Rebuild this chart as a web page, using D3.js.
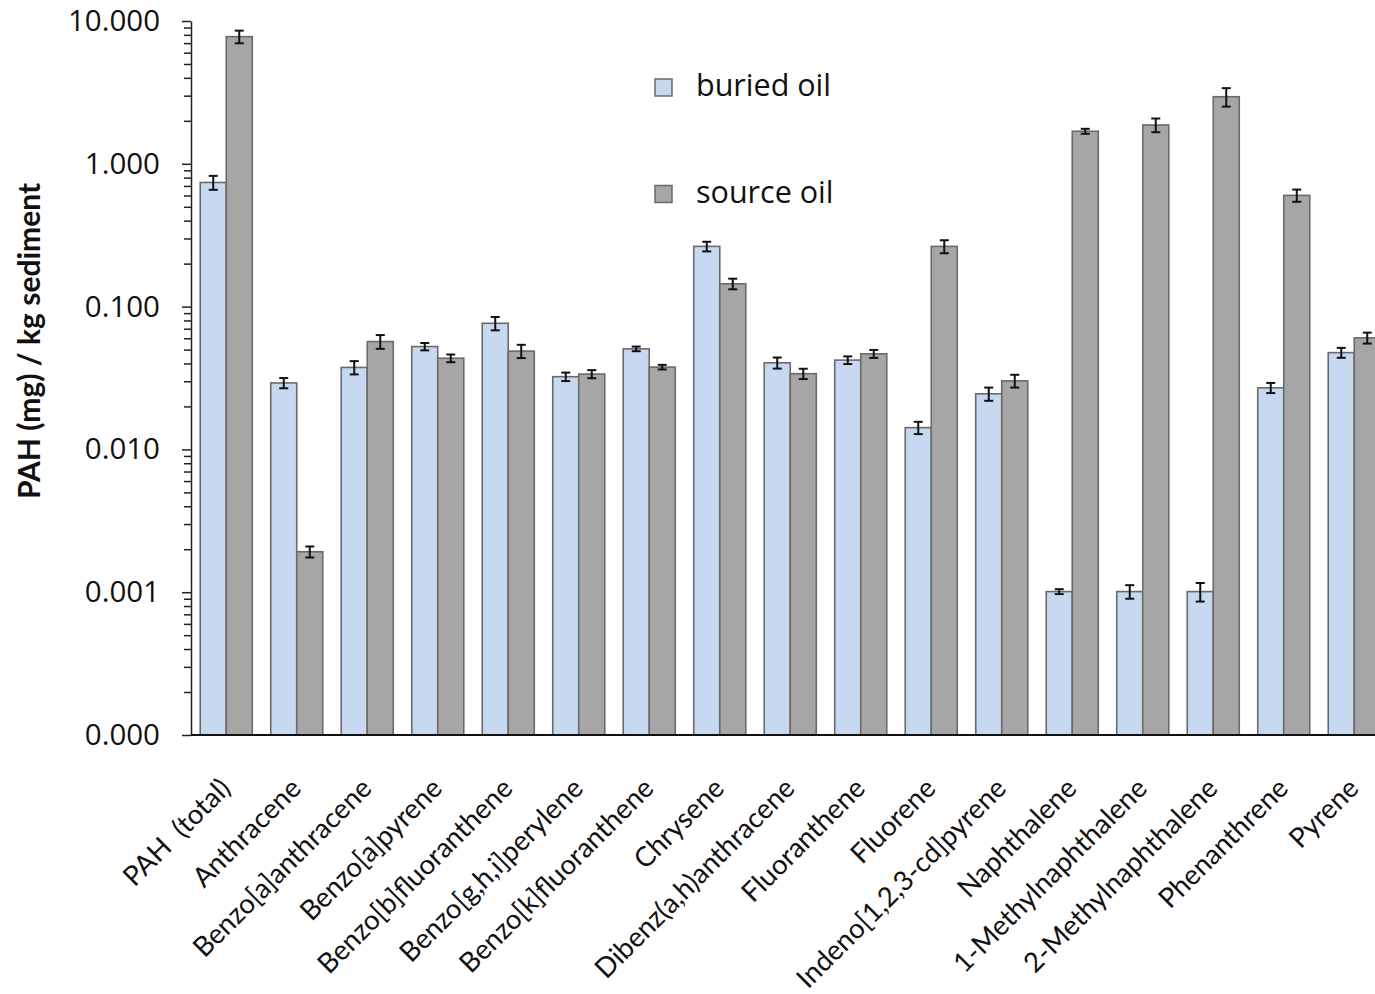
<!DOCTYPE html>
<html>
<head>
<meta charset="utf-8">
<script src="https://cdn.jsdelivr.net/npm/d3@7"></script>
<style>
  html, body { margin: 0; padding: 0; background: #fff; }
  svg { display: block; }
  .cat-label { white-space: pre; }
</style>
</head>
<body>
<svg id="chart" width="1375" height="994"></svg>
<script>
// PAH concentrations per compound, buried oil vs. source oil (mg / kg sediment)
const categories = [
  "PAH  (total)", "Anthracene", "Benzo[a]anthracene", "Benzo[a]pyrene",
  "Benzo[b]fluoranthene", "Benzo[g,h,i]perylene", "Benzo[k]fluoranthene",
  "Chrysene", "Dibenz(a,h)anthracene", "Fluoranthene", "Fluorene",
  "Indeno[1,2,3-cd]pyrene", "Naphthalene", "1-Methylnaphthalene",
  "2-Methylnaphthalene", "Phenanthrene", "Pyrene"
];
const seriesNames = ["buried oil", "source oil"];
const buried    = [0.74, 0.0292, 0.0375, 0.0525, 0.0764, 0.0323, 0.0506, 0.264, 0.0404, 0.0422, 0.0142, 0.0245, 0.00101, 0.00101, 0.00101, 0.0270, 0.0476];
const buriedErr = [0.083, 0.0024, 0.0040, 0.0031, 0.0082, 0.0022, 0.0019, 0.0205, 0.0036, 0.0026, 0.0014, 0.0026, 0.00004, 0.00011, 0.00015, 0.0022, 0.0038];
const source    = [7.77, 0.00192, 0.0569, 0.0435, 0.0488, 0.0337, 0.0377, 0.1445, 0.0339, 0.0467, 0.264, 0.0302, 1.69, 1.87, 2.95, 0.601, 0.0604];
const sourceErr = [0.79, 0.00017, 0.0063, 0.0027, 0.0052, 0.0022, 0.0014, 0.0123, 0.0028, 0.0030, 0.0275, 0.0031, 0.068, 0.206, 0.436, 0.059, 0.0053];
const majorTicks = [0.0001, 0.001, 0.01, 0.1, 1, 10];
const colors = { "buried oil": "#c6d9f0", "source oil": "#a6a6a6" };

const svg = d3.select("#chart");
const plotLeft = 191, plotTop = 21, plotBottom = 735, step = 70.5;

const y = d3.scaleLog().domain([0.0001, 10]).range([plotBottom, plotTop]);
const x = d3.scaleBand()
  .domain(categories)
  .range([plotLeft, plotLeft + step * categories.length])
  .paddingInner(0.262)
  .paddingOuter(0.131);
const xs = d3.scaleBand().domain(seriesNames).range([0, x.bandwidth()]);

const rows = categories.map((c, i) => ({
  cat: c,
  vals: [
    { s: "buried oil", v: buried[i], e: buriedErr[i] },
    { s: "source oil", v: source[i], e: sourceErr[i] }
  ]
}));

// bars
const groups = svg.append("g").selectAll("g")
  .data(rows).join("g")
  .attr("transform", d => `translate(${x(d.cat)},0)`);

groups.selectAll("rect")
  .data(d => d.vals).join("rect")
  .attr("x", d => xs(d.s))
  .attr("y", d => y(d.v))
  .attr("width", xs.bandwidth())
  .attr("height", d => plotBottom - y(d.v))
  .attr("fill", d => colors[d.s])
  .attr("stroke", "#6a6a6a")
  .attr("stroke-width", 1.6);

// error bars
const cap = 4.5;
const eb = groups.selectAll("g.err")
  .data(d => d.vals).join("g").attr("class", "err")
  .attr("stroke", "#111").attr("stroke-width", 2);
eb.append("line")
  .attr("x1", d => xs(d.s) + xs.bandwidth() / 2)
  .attr("x2", d => xs(d.s) + xs.bandwidth() / 2)
  .attr("y1", d => y(d.v + d.e))
  .attr("y2", d => y(d.v - d.e));
eb.append("line")
  .attr("x1", d => xs(d.s) + xs.bandwidth() / 2 - cap)
  .attr("x2", d => xs(d.s) + xs.bandwidth() / 2 + cap)
  .attr("y1", d => y(d.v + d.e))
  .attr("y2", d => y(d.v + d.e));
eb.append("line")
  .attr("x1", d => xs(d.s) + xs.bandwidth() / 2 - cap)
  .attr("x2", d => xs(d.s) + xs.bandwidth() / 2 + cap)
  .attr("y1", d => y(d.v - d.e))
  .attr("y2", d => y(d.v - d.e));

// y axis: minor ticks
const minorTicks = [];
majorTicks.slice(0, -1).forEach(m => { for (let k = 2; k <= 9; k++) minorTicks.push(m * k); });
svg.append("g")
  .attr("transform", `translate(${plotLeft},0)`)
  .call(d3.axisLeft(y).tickValues(minorTicks).tickSize(7).tickFormat(""))
  .call(g => g.select(".domain").remove())
  .call(g => g.selectAll("line").attr("stroke", "#222").attr("stroke-width", 1.5));

// y axis: major ticks and labels
svg.append("g")
  .attr("transform", `translate(${plotLeft},0)`)
  .call(d3.axisLeft(y).tickValues(majorTicks).tickSize(9).tickSizeOuter(0).tickPadding(22)
    .tickFormat(d3.format(".3f")))
  .call(g => g.select(".domain").attr("stroke", "#222").attr("stroke-width", 1.5))
  .call(g => g.selectAll("line").attr("stroke", "#222").attr("stroke-width", 1.5))
  .call(g => g.selectAll("text")
    .attr("font-family", "'Open Sans', sans-serif")
    .attr("font-size", 29.5)
    .attr("fill", "#111"));

// baseline
svg.append("line")
  .attr("x1", plotLeft).attr("x2", 1375)
  .attr("y1", y(0.0001)).attr("y2", y(0.0001))
  .attr("stroke", "#111").attr("stroke-width", 2);

// category labels
svg.append("g").selectAll("text")
  .data(categories).join("text")
  .attr("class", "cat-label")
  .attr("transform", d => `translate(${x(d) + x.bandwidth() / 2 + 6},${plotBottom + 55}) rotate(-45)`)
  .attr("text-anchor", "end")
  .attr("font-family", "Lato, 'Open Sans', sans-serif")
  .attr("font-size", 27.5)
  .attr("fill", "#111")
  .text(d => d);

// y axis title
svg.append("text")
  .attr("transform", `translate(40,341) rotate(-90)`)
  .attr("text-anchor", "middle")
  .attr("font-family", "Lato, sans-serif")
  .attr("font-weight", "bold")
  .attr("font-size", 30)
  .attr("fill", "#111")
  .text("PAH (mg) / kg sediment");

// legend
const legend = svg.append("g").selectAll("g")
  .data(seriesNames).join("g")
  .attr("transform", (d, i) => `translate(655,${79 + i * 106.5})`);
legend.append("rect")
  .attr("width", 17).attr("height", 17)
  .attr("fill", d => colors[d])
  .attr("stroke", "#6a6a6a").attr("stroke-width", 1.5);
legend.append("text")
  .attr("x", 41).attr("y", 17)
  .attr("font-family", "'Open Sans', sans-serif")
  .attr("font-size", 30.5)
  .attr("fill", "#111")
  .text(d => d);
</script>
</body>
</html>
